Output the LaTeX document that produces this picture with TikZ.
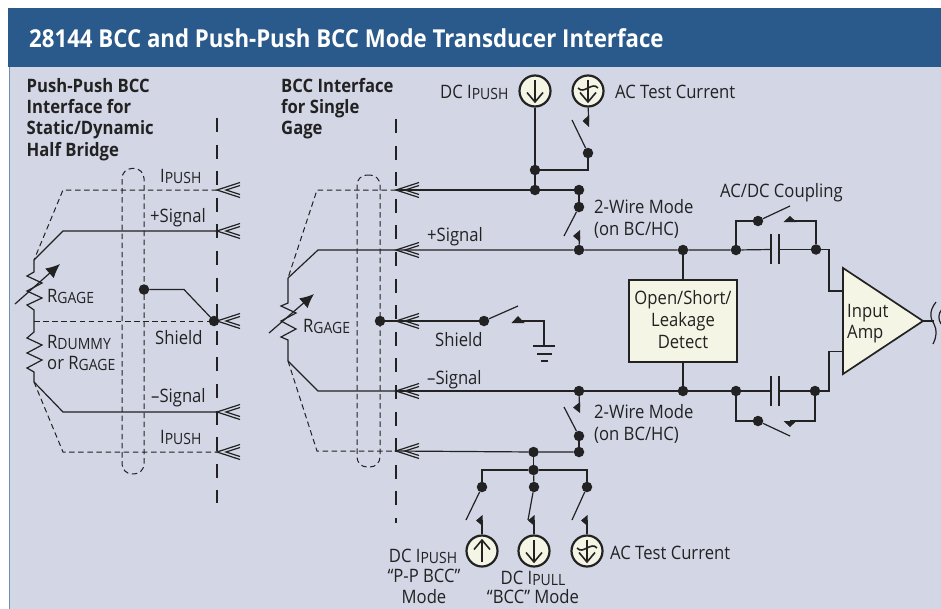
\documentclass[tikz,border=0pt]{standalone}
\usepackage{fontspec}
\setmainfont[FakeStretch=0.9]{Open Sans}
\usetikzlibrary{arrows.meta}
\definecolor{panel}{HTML}{D3D6E5}
\definecolor{headblue}{HTML}{2A5A8C}
\definecolor{edgeblue}{HTML}{6F8FB5}
\definecolor{cream}{HTML}{F5F5E6}
\definecolor{ink}{HTML}{222222}
\newcommand\sm[1]{\raisebox{-1pt}{\fontsize{15.5}{15.5}\selectfont #1}}
\newcommand\chev[1]{%
  \draw[wire] ([shift={(23,-7.5)}]#1) -- (#1) -- ([shift={(23,7.5)}]#1);
  \draw[wire] ([shift={(23,-4.5)}]#1) -- ([shift={(9,0)}]#1) -- ([shift={(23,4.5)}]#1);}
\newcommand\darrow[1]{%
  \draw[glyph] ([yshift=-11]#1.center) -- ([yshift=11]#1.center);
  \draw[glyph] ([shift={(-8,1.5)}]#1.center) -- ([yshift=-11]#1.center) -- ([shift={(8,1.5)}]#1.center);}
\newcommand\uarrow[1]{%
  \draw[glyph] ([yshift=-11]#1.center) -- ([yshift=11]#1.center);
  \draw[glyph] ([shift={(-8,-1.5)}]#1.center) -- ([yshift=11]#1.center) -- ([shift={(8,-1.5)}]#1.center);}
\newcommand\acarrow[1]{%
  \darrow{#1}
  \draw[glyph] ([shift={(-10,-3)}]#1.center) .. controls ([shift={(-4,4)}]#1.center) and ([shift={(4,-10)}]#1.center) .. ([shift={(10,-3)}]#1.center);}
\tikzset{
  x=1pt,y=-1pt,
  wire/.style={draw=ink,line width=1.2pt},
  glyph/.style={draw=ink,line width=1.6pt},
  thindash/.style={draw=ink,line width=1pt,dash pattern=on 5.5pt off 3.6pt},
  bar/.style={draw=ink,line width=2.2pt,dash pattern=on 14pt off 12.6pt},
  dotnode/.style={circle,fill=ink,minimum size=10.5pt,inner sep=0pt},
  source/.style={circle,draw=ink,fill=cream,line width=2.2pt,minimum size=31pt,inner sep=0pt},
  lab/.style={anchor=base west,inner sep=0pt,text=ink,font=\fontsize{18.5}{18.5}\selectfont},
  labc/.style={anchor=base,inner sep=0pt,text=ink,font=\fontsize{18.5}{18.5}\selectfont},
  head/.style={anchor=base west,inner sep=0pt,text=ink,font=\bfseries\fontsize{18.5}{18.5}\selectfont},
  box/.style={draw=ink,fill=cream,line width=1.7pt,inner sep=0pt},
  pill/.style={thindash,rounded corners=10pt,inner sep=0pt},
  gauge/.style={draw=ink,line width=1.2pt,-{Latex[length=14pt,width=13pt]}},
}
\begin{document}
\begin{tikzpicture}
\useasboundingbox (0,0) rectangle (941,608);
\clip (0,0) rectangle (941,608);
\fill[white] (0,0) rectangle (941,608);
\node[fill=panel,draw=edgeblue,line width=0.8pt,anchor=north west,minimum width=940pt,minimum height=545pt,inner sep=0pt] (panelbody) at (8.5,66) {};
\node[fill=headblue,anchor=north west,minimum width=933pt,minimum height=59pt,inner sep=0pt] (header) at (8,8) {};
\node[anchor=base west,inner sep=0pt,text=white,font=\bfseries\fontsize{24.7}{24.7}\selectfont] (title) at (29,47) {28144 BCC and Push-Push BCC Mode Transducer Interface};

% ---- coordinates, left circuit
\coordinate (LA) at (217,190);
\coordinate (LB) at (217,231);
\coordinate (LC) at (217,321);
\coordinate (LD) at (217,412);
\coordinate (LE) at (217,452);
\coordinate (LB1) at (63,190);
\coordinate (LB2) at (63,231);
\coordinate (LB3) at (63,412);
\coordinate (LB4) at (63,452);
\coordinate (LT) at (34,260);
\coordinate (LM) at (34,321);
\coordinate (LL) at (34,382);
\coordinate (LBarTop) at (217,118);
\coordinate (LBarBot) at (217,503);
\coordinate (LGs) at (15,304);
\coordinate (LGe) at (60,264);
\coordinate (LK) at (184,289.5);

\draw[bar] (LBarTop) -- (LBarBot);
\node[pill,draw,minimum width=22pt,minimum height=305.5pt] (pillL) at (133,321.2) {};
\draw[thindash] (LA) -- (LB1) -- (LT);
\draw[wire] (LB) -- (LB2) -- (LT);
\draw[wire] (LT) -- (34,272) -- (27,276) -- (42,283) -- (27,291) -- (42,298) -- (27,305) -- (34,310) -- (LM);
\draw[wire] (LM) -- (34,332) -- (27,338) -- (42,345) -- (27,353) -- (42,360) -- (27,368) -- (34,372) -- (LL);
\draw[wire] (LL) -- (LB3) -- (LD);
\draw[thindash] (LL) -- (LB4) -- (LE);
\draw[thindash] (LM) -- (LC);
\draw[gauge] (LGs) -- (LGe);
\node[dotnode] (dL1) at (144,289.5) {};
\node[dotnode] (dL2) at (214,321) {};
\draw[wire] (dL1) -- (LK) -- (dL2);
\chev{LA}\chev{LB}\chev{LC}\chev{LD}\chev{LE}

% ---- coordinates, right circuit
\coordinate (RA) at (396,190);
\coordinate (RB) at (396,250);
\coordinate (RC) at (396,321);
\coordinate (RD) at (396,391);
\coordinate (RE) at (396,451);
\coordinate (RB1) at (317,190);
\coordinate (RB2) at (318,250);
\coordinate (RB3) at (318,391);
\coordinate (RB4) at (317,451);
\coordinate (RT) at (288,278);
\coordinate (RL) at (288,361);
\coordinate (RBarTop) at (396,119);
\coordinate (RBarBot) at (396,523);
\coordinate (RGs) at (269,333);
\coordinate (RGe) at (314,294);

\draw[bar] (RBarTop) -- (RBarBot);
\node[pill,draw,minimum width=23pt,minimum height=292pt] (pillR) at (368.5,321) {};
\draw[thindash] (RA) -- (RB1) -- (RT);
\draw[wire] (RB) -- (RB2) -- (RT);
\draw[wire] (RT) -- (288,303) -- (281,306) -- (296,313) -- (281,321) -- (296,329) -- (281,337) -- (288,340) -- (RL);
\draw[wire] (RL) -- (RB3) -- (RD);
\draw[thindash] (RL) -- (RB4) -- (RE);
\draw[gauge] (RGs) -- (RGe);

% dots, right
\node[dotnode] (dS0) at (380,321) {};
\node[dotnode] (dS1) at (484,321) {};
\node[dotnode] (dA1) at (535,190) {};
\node[dotnode] (dA2) at (535,170) {};
\node[dotnode] (dA3) at (579,190) {};
\node[dotnode] (dA4) at (579,207) {};
\node[dotnode] (dA5) at (588,153) {};
\node[dotnode] (dB1) at (579,250) {};
\node[dotnode] (dB2) at (683,250) {};
\node[dotnode] (dB3) at (736,250) {};
\node[dotnode] (dB4) at (816,249.5) {};
\node[dotnode] (dB5) at (758,221) {};
\node[dotnode] (dD1) at (579,391) {};
\node[dotnode] (dD2) at (683,391) {};
\node[dotnode] (dD3) at (736,391) {};
\node[dotnode] (dD4) at (815,391) {};
\node[dotnode] (dD5) at (758,421) {};
\node[dotnode] (dE1) at (579,436) {};
\node[dotnode] (dE2) at (579,452) {};
\node[dotnode] (dE3) at (533.5,452) {};
\node[dotnode] (dF1) at (533.5,470) {};
\node[dotnode] (dG1) at (482,487) {};
\node[dotnode] (dG2) at (534,487) {};
\node[dotnode] (dG3) at (587,487) {};

% sources
\node[source] (srcA) at (535,91) {};
\node[source] (srcB) at (588,91) {};
\node[source] (srcC) at (482,551) {};
\node[source] (srcD) at (534,551) {};
\node[source] (srcE) at (587,551) {};
\darrow{srcA}\acarrow{srcB}\uarrow{srcC}\darrow{srcD}\acarrow{srcE}

% box and amp
\node[box,draw,minimum width=108pt,minimum height=82pt] (detect) at (683,321) {};
\draw[box] (843,268) -- (843,374) -- (923,321) -- cycle;
\coordinate (ampP) at (843,291);
\coordinate (ampM) at (843,351.5);
\coordinate (ampO) at (923,321);

% shield
\coordinate (sw1) at (518,306);
\coordinate (sw1c) at (518,321);
\coordinate (gndC) at (544,321);
\coordinate (gnd) at (544,346);
\draw[wire] (dS0) -- (dS1);
\draw[wire] (dS1) -- (sw1);
\draw[wire] (sw1c) -- (gndC) -- (gnd);
\fill[ink] (518,316) -- (524.5,323) -- (511.5,323) -- cycle;
\draw[wire] (533,346) -- (555,346);
\draw[wire] (537,354) -- (552,354);
\draw[wire] (541,361) -- (547.5,361);

% top rail
\draw[wire] (RA) -- (dA1) -- (dA3);
\draw[wire] (srcA) -- (dA2) -- (dA1);
\draw[wire] (dA2) -- (588,170) -- (dA5);
\coordinate (swA) at (572,120);
\draw[wire] (dA5) -- (swA);
\coordinate (cA) at (588.5,121);
\draw[wire] (srcB) -- (cA);
\fill[ink] (582.5,121) -- (589,115) -- (589,127) -- cycle;

% 2-wire upper
\draw[wire] (dA3) -- (dA4);
\coordinate (swB) at (564,236);
\coordinate (cB) at (579.5,236);
\draw[wire] (dA4) -- (swB);
\draw[wire] (cB) -- (dB1);
\fill[ink] (573,236) -- (580,230) -- (580,242) -- cycle;

% +signal
\coordinate (capA1) at (771,249.5);
\coordinate (capA2) at (779,249.5);
\draw[wire] (RB) -- (dB1) -- (dB2) -- (dB3) -- (capA1);
\draw[wire] (capA2) -- (dB4);
\draw[wire,line width=1.3pt] (771,234) -- (771,264);
\draw[wire,line width=1.3pt] (779,234) -- (779,264);
\draw[wire] (dB3) -- (736,221) -- (dB5);
\coordinate (swC) at (790,206);
\draw[wire] (dB5) -- (swC);
\draw[wire] (790,221) -- (816,221) -- (dB4);
\fill[ink] (790,216) -- (796.5,222) -- (783.5,222) -- cycle;
\draw[wire] (dB4) -- (829,249.5) -- (829,291) -- (ampP);
\draw[wire] (dB2) -- (detect);

% -signal
\coordinate (capB1) at (771,391);
\coordinate (capB2) at (779,391);
\draw[wire] (RD) -- (dD1) -- (dD2) -- (dD3) -- (capB1);
\draw[wire] (capB2) -- (dD4);
\draw[wire,line width=1.3pt] (771,376) -- (771,406);
\draw[wire,line width=1.3pt] (779,376) -- (779,406);
\draw[wire] (dD3) -- (736,421) -- (dD5);
\coordinate (swD) at (790,436);
\draw[wire] (dD5) -- (swD);
\draw[wire] (790,421) -- (815,421) -- (dD4);
\fill[ink] (790,427) -- (796.5,421) -- (783.5,421) -- cycle;
\draw[wire] (dD4) -- (829,391) -- (829,351.5) -- (ampM);
\draw[wire] (dD2) -- (detect);

% 2-wire lower
\coordinate (swE) at (564,407);
\coordinate (cE) at (579.5,407.5);
\draw[wire] (dD1) -- (cE);
\fill[ink] (573,407.5) -- (580,402) -- (580,413) -- cycle;
\draw[wire] (dE1) -- (swE);
\draw[wire] (dE1) -- (dE2);
\draw[wire] (RE) -- (dE3) -- (dE2);

% bottom sources
\draw[wire] (dE3) -- (dF1);
\draw[wire] (dG1) -- (482,470) -- (dF1) -- (587,470) -- (dG3);
\draw[wire] (dF1) -- (dG2);
\coordinate (swF) at (466,520);
\coordinate (swG) at (528,520);
\coordinate (swH) at (572,520);
\draw[wire] (dG1) -- (swF);
\draw[wire] (dG2) -- (swG);
\draw[wire] (dG3) -- (swH);
\coordinate (cF) at (482,520);
\coordinate (cG) at (534,520);
\coordinate (cH) at (587,520);
\draw[wire] (srcC) -- (cF);
\draw[wire] (srcD) -- (cG);
\draw[wire] (srcE) -- (cH);
\fill[ink] (476,520.5) -- (482.5,515) -- (482.5,526) -- cycle;
\fill[ink] (528,520.5) -- (534.5,515) -- (534.5,526) -- cycle;
\fill[ink] (581,520.5) -- (587.5,515) -- (587.5,526) -- cycle;

\chev{RA}\chev{RB}\chev{RC}\chev{RD}\chev{RE}
\draw[wire] (RC) -- (dS0);

% output break
\coordinate (outE) at (934,321);
\draw[wire] (ampO) -- (outE);
\draw[wire] (936,302) .. controls (928,312) and (931,320) .. (934,324) .. controls (937,330) and (937,336) .. (933,344);
\draw[wire] (942,309) .. controls (938,314) and (938,319) .. (941,324);

% ---- labels
\node[head] (h1a) at (26.5,92) {Push-Push BCC};
\node[head] (h1b) at (26.5,113.5) {Interface for};
\node[head] (h1c) at (26.5,134.5) {Static/Dynamic};
\node[head] (h1d) at (26.5,156.5) {Half Bridge};
\node[head] (h2a) at (281,92) {BCC Interface};
\node[head] (h2b) at (281,113.5) {for Single};
\node[head] (h2c) at (281,134.5) {Gage};

\node[lab] (t1) at (160,182) {I\sm{PUSH}};
\node[lab] (t2) at (150,222.5) {+Signal};
\node[lab] (t3) at (155,344) {Shield};
\node[lab] (t4) at (151,402.5) {–Signal};
\node[lab] (t5) at (160,443.5) {I\sm{PUSH}};
\node[lab] (t6) at (47,302.5) {R\sm{GAGE}};
\node[lab] (t7) at (47,348) {R\sm{DUMMY}};
\node[lab] (t8) at (47,369) {or R\sm{GAGE}};

\node[lab] (r1) at (303,332.5) {R\sm{GAGE}};
\node[lab] (r2) at (427,241.5) {+Signal};
\node[lab] (r3) at (435,346.5) {Shield};
\node[lab] (r4) at (427,384) {–Signal};
\node[lab] (r5) at (440,98) {DC I\sm{PUSH}};
\node[lab] (r6) at (615,98) {AC Test Current};
\node[lab] (r7) at (594,213) {2-Wire Mode};
\node[lab] (r8) at (594,235) {(on BC/HC)};
\node[lab] (r9) at (594,418.5) {2-Wire Mode};
\node[lab] (r10) at (594,440) {(on BC/HC)};
\node[lab] (r11) at (720,197) {AC/DC Coupling};
\node[labc] (b1) at (683,304) {Open/Short/};
\node[labc] (b2) at (683,326.5) {Leakage};
\node[labc] (b3) at (683,348) {Detect};
\node[lab] (a1) at (847,317) {Input};
\node[lab] (a2) at (847,338.5) {Amp};
\node[labc] (c1) at (423,562) {DC I\sm{PUSH}};
\node[labc] (c2) at (424,582) {“P-P BCC”};
\node[labc] (c3) at (424,603) {Mode};
\node[labc] (c4) at (533,584.5) {DC I\sm{PULL}};
\node[labc] (c5) at (533,603) {“BCC” Mode};
\node[lab] (c6) at (610,559.5) {AC Test Current};
\end{tikzpicture}
\end{document}
